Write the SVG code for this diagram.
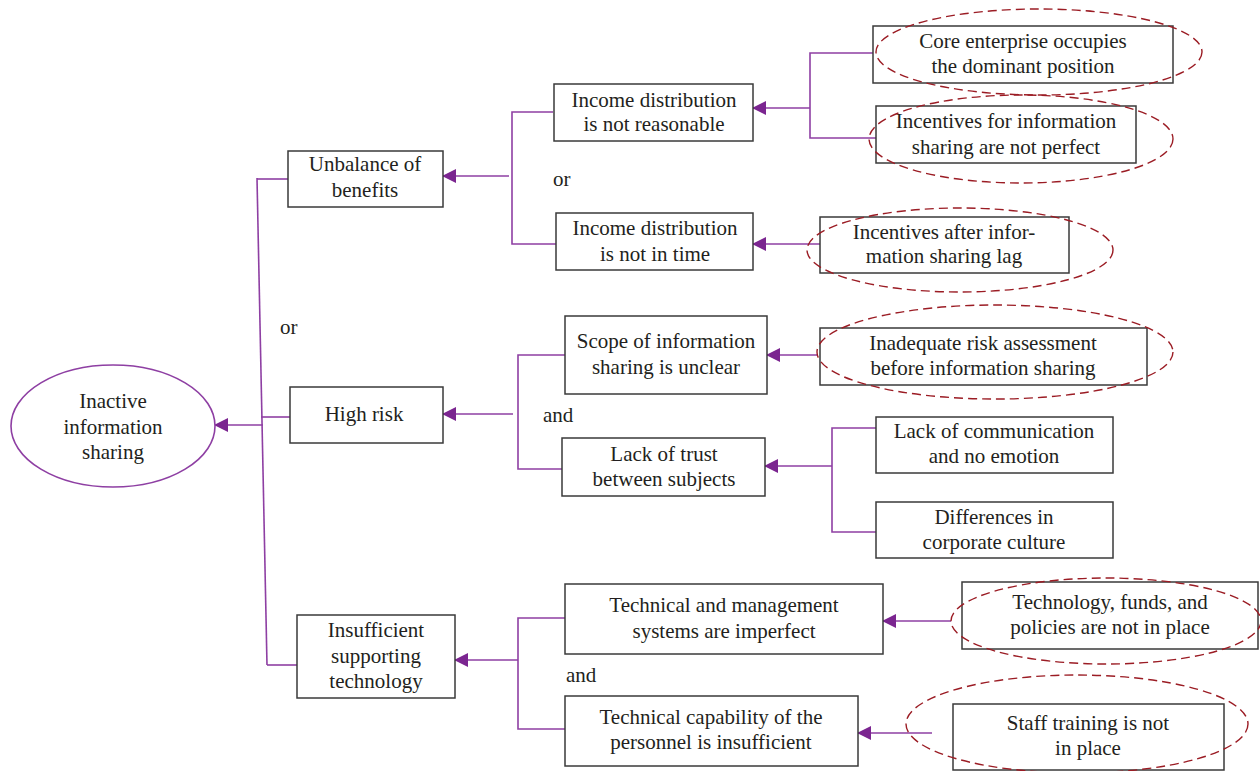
<svg xmlns="http://www.w3.org/2000/svg" width="1260" height="771" viewBox="0 0 1260 771">
<style>
text{font-family:"Liberation Serif","Times New Roman",serif;font-size:21px;fill:#231f20;text-anchor:middle}
.box{fill:#fff;stroke:#3a3a3a;stroke-width:1.5}
.dash{fill:none;stroke:#9b1c24;stroke-width:1.4;stroke-dasharray:9 5}
.ln{fill:none;stroke:#8e3fa3;stroke-width:1.6}
.arr{fill:none;stroke:#8e3fa3;stroke-width:1.6;marker-end:url(#ah)}
.lbl{text-anchor:start}
</style>
<defs>
<marker id="ah" markerUnits="userSpaceOnUse" markerWidth="14" markerHeight="14" viewBox="0 0 14 14" refX="13" refY="7" orient="auto">
<path d="M0,0 L14,7 L0,14 Z" fill="#7b2590"/>
</marker>
</defs>
<rect width="1260" height="771" fill="#fff"/>

<g id="connectors">
<line class="ln" x1="257" y1="178" x2="267" y2="665"/>
<line class="ln" x1="257" y1="179" x2="288" y2="179"/>
<line class="ln" x1="261" y1="417" x2="290" y2="417"/>
<line class="ln" x1="267" y1="665" x2="297" y2="665"/>
<line class="arr" x1="263" y1="425" x2="215" y2="425"/>

<path class="ln" d="M553,112 H512 V244 H556"/>
<line class="arr" x1="509" y1="176" x2="443" y2="176"/>

<path class="ln" d="M873,53 H810 V138 H876"/>
<line class="arr" x1="810" y1="108" x2="753" y2="108"/>

<line class="arr" x1="820" y1="244" x2="753" y2="244"/>

<path class="ln" d="M565,355 H518 V469 H562"/>
<line class="arr" x1="513" y1="414" x2="443" y2="414"/>

<line class="arr" x1="818" y1="355" x2="767" y2="355"/>

<path class="ln" d="M876,428 H832 V532 H876"/>
<line class="arr" x1="832" y1="466" x2="765" y2="466"/>

<path class="ln" d="M565,618 H518 V729 H565"/>
<line class="arr" x1="518" y1="660" x2="455" y2="660"/>

<line class="arr" x1="951" y1="621" x2="883" y2="621"/>
<line class="arr" x1="932" y1="733" x2="858" y2="733"/>
</g>

<g id="labels">
<text class="lbl" x="280" y="334">or</text>
<text class="lbl" x="553" y="186">or</text>
<text class="lbl" x="543" y="422">and</text>
<text class="lbl" x="566" y="682">and</text>
</g>

<g id="n-root">
<ellipse cx="113" cy="426" rx="102" ry="61" fill="#fff" stroke="#8e3fa3" stroke-width="1.6"/>
<text x="113" y="408">Inactive</text>
<text x="113" y="434">information</text>
<text x="113" y="459">sharing</text>
</g>

<g id="n-unbalance">
<rect class="box" x="288" y="151" width="155" height="56"/>
<text x="365" y="171">Unbalance of</text>
<text x="365" y="197">benefits</text>
</g>

<g id="n-highrisk">
<rect class="box" x="290" y="387" width="153" height="56"/>
<text x="364" y="421">High risk</text>
</g>

<g id="n-insufficient">
<rect class="box" x="297" y="615" width="158" height="83"/>
<text x="376" y="637">Insufficient</text>
<text x="376" y="663">supporting</text>
<text x="376" y="688">technology</text>
</g>

<g id="n-income1">
<rect class="box" x="554" y="84" width="199" height="57"/>
<text x="654" y="107">Income distribution</text>
<text x="654" y="131">is not reasonable</text>
</g>

<g id="n-income2">
<rect class="box" x="556" y="213" width="197" height="57"/>
<text x="655" y="235">Income distribution</text>
<text x="655" y="261">is not in time</text>
</g>

<g id="n-core">
<rect class="box" x="873" y="26" width="300" height="57"/>
<text x="1023" y="48">Core enterprise occupies</text>
<text x="1023" y="73">the dominant position</text>
<ellipse class="dash" cx="1039" cy="52" rx="163" ry="43"/>
</g>

<g id="n-incentives1">
<rect class="box" x="876" y="106" width="260" height="57"/>
<text x="1006" y="128">Incentives for information</text>
<text x="1006" y="154">sharing are not perfect</text>
<ellipse class="dash" cx="1021" cy="139" rx="152" ry="44"/>
</g>

<g id="n-incentives2">
<rect class="box" x="820" y="217" width="249" height="56"/>
<text x="944" y="239">Incentives after infor-</text>
<text x="944" y="263">mation sharing lag</text>
<ellipse class="dash" cx="960" cy="250" rx="153" ry="42"/>
</g>

<g id="n-scope">
<rect class="box" x="565" y="316" width="202" height="78"/>
<text x="666" y="348">Scope of information</text>
<text x="666" y="374">sharing is unclear</text>
</g>

<g id="n-trust">
<rect class="box" x="562" y="438" width="203" height="58"/>
<text x="664" y="461">Lack of trust</text>
<text x="664" y="486">between subjects</text>
</g>

<g id="n-inadequate">
<rect class="box" x="820" y="328" width="327" height="57"/>
<text x="983" y="350">Inadequate risk assessment</text>
<text x="983" y="375">before information sharing</text>
<ellipse class="dash" cx="995" cy="352" rx="178" ry="47"/>
</g>

<g id="n-communication">
<rect class="box" x="876" y="417" width="237" height="56"/>
<text x="994" y="438">Lack of communication</text>
<text x="994" y="463">and no emotion</text>
</g>

<g id="n-culture">
<rect class="box" x="876" y="502" width="237" height="56"/>
<text x="994" y="524">Differences in</text>
<text x="994" y="549">corporate culture</text>
</g>

<g id="n-techmgmt">
<rect class="box" x="565" y="584" width="318" height="70"/>
<text x="724" y="612">Technical and management</text>
<text x="724" y="638">systems are imperfect</text>
</g>

<g id="n-techcap">
<rect class="box" x="565" y="696" width="293" height="70"/>
<text x="711" y="724">Technical capability of the</text>
<text x="711" y="749">personnel is insufficient</text>
</g>

<g id="n-technology">
<rect class="box" x="962" y="582" width="296" height="67"/>
<text x="1110" y="609">Technology, funds, and</text>
<text x="1110" y="634">policies are not in place</text>
<ellipse class="dash" cx="1106" cy="621" rx="155" ry="43"/>
</g>

<g id="n-staff">
<rect class="box" x="953" y="704" width="271" height="66"/>
<text x="1088" y="730">Staff training is not</text>
<text x="1088" y="755">in place</text>
<ellipse class="dash" cx="1077" cy="724" rx="171" ry="49"/>
</g>
</svg>
